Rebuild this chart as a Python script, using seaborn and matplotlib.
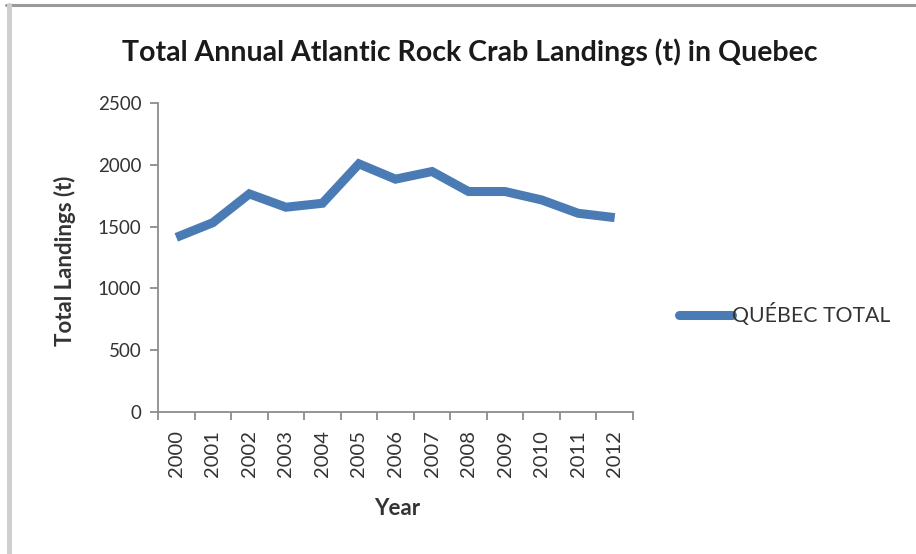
import matplotlib
matplotlib.use("Agg")
import matplotlib.pyplot as plt
from matplotlib.lines import Line2D
from matplotlib.ticker import FixedLocator, NullFormatter
import seaborn as sns
import pandas as pd

years = ["2000", "2001", "2002", "2003", "2004", "2005", "2006",
         "2007", "2008", "2009", "2010", "2011", "2012"]
landings = [1413, 1532, 1765, 1657, 1689, 2008, 1884,
            1946, 1784, 1784, 1716, 1608, 1573]
series_name = "QUÉBEC TOTAL"
y_ticks = [0, 500, 1000, 1500, 2000, 2500]

sns.set_theme(style="white")
plt.rcParams["font.family"] = ["Lato", "DejaVu Sans"]

df = pd.DataFrame({"Year": years, "Landings": landings, "Series": series_name})

fig = plt.figure(figsize=(9.16, 5.54), dpi=100)
ax = fig.add_axes([0.1725, 0.2563, 0.5185, 0.5577])

line_color = "#4A7BB5"
sns.lineplot(data=df, x="Year", y="Landings", ax=ax, color=line_color,
             linewidth=6.5, sort=False, legend=False,
             solid_joinstyle="miter", solid_capstyle="butt")

ax.set_xlim(-0.5, len(years) - 0.5)
ax.set_ylim(0, 2500)
ax.set_yticks(y_ticks)
ax.set_yticklabels([str(v) for v in y_ticks])

# category labels centred on points, tick marks between categories
ax.set_xticks(range(len(years)))
ax.set_xticklabels(years, rotation=90)
ax.xaxis.set_minor_locator(FixedLocator([i - 0.5 for i in range(len(years) + 1)]))
ax.xaxis.set_minor_formatter(NullFormatter())

axis_gray = "#8C8C8C"
text_gray = "#333333"
for side in ["top", "right"]:
    ax.spines[side].set_visible(False)
for side in ["left", "bottom"]:
    ax.spines[side].set_color(axis_gray)
    ax.spines[side].set_linewidth(1.3)

ax.tick_params(axis="x", which="major", length=0, pad=13, labelsize=14.5,
               labelcolor=text_gray)
ax.tick_params(axis="x", which="minor", length=6, width=1.3, color=axis_gray,
               bottom=True)
ax.tick_params(axis="y", which="major", length=6, width=1.3, color=axis_gray,
               left=True, pad=6, labelsize=13.5, labelcolor=text_gray)

ax.set_xlabel("Year", fontsize=16, fontweight="bold", color=text_gray)
ax.xaxis.set_label_coords(0.503, -0.278)
ax.set_ylabel("Total Landings (t)", fontsize=16, fontweight="bold",
              color=text_gray)
ax.yaxis.set_label_coords(-0.172, 0.49)

fig.text(0.513, 0.906, "Total Annual Atlantic Rock Crab Landings (t) in Quebec",
         ha="center", va="center", fontsize=20.5, fontweight="bold",
         color="#1a1a1a")

handle = Line2D([], [], color=line_color, linewidth=6.5, solid_capstyle="round")
fig.legend([handle], [series_name], loc="center left",
           bbox_to_anchor=(0.7205, 0.432), frameon=False, fontsize=15.3,
           handlelength=2.5, handletextpad=0.0, labelcolor=text_gray)

# chart frame along the top and left edges
fig.add_artist(Line2D([0.007, 1.0], [0.9915, 0.9915], color="#9a9a9a",
                      linewidth=2.2, transform=fig.transFigure))
fig.add_artist(Line2D([0.0093, 0.0093], [0.0, 0.9915], color="#cfcfcf",
                      linewidth=3.6, transform=fig.transFigure))

fig.savefig("out.png", dpi=100, facecolor="white")
